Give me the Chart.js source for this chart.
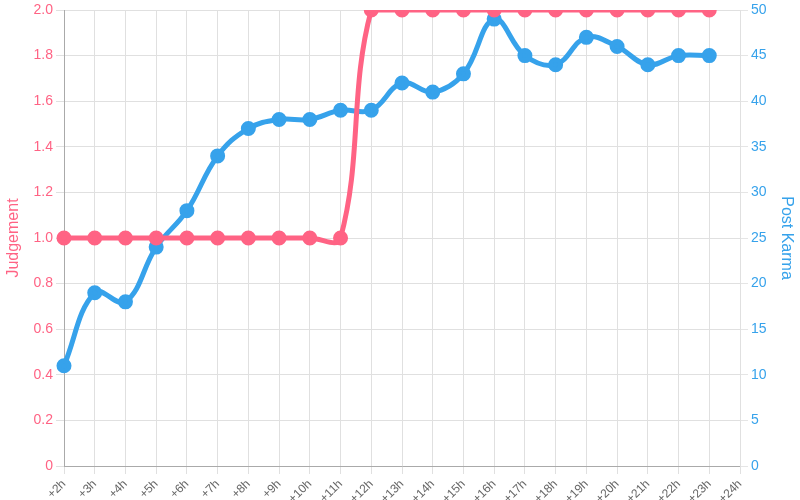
<!DOCTYPE html>
<html lang="en">
<head>
	<meta charset="UTF-8">
	<title>Judgement and Post Karma</title>
	<script src="https://cdn.jsdelivr.net/npm/chart.js"></script>
	<style>
		body { margin: 0; background: #fff; }
		#wrap { width: 800px; height: 500px; }
	</style>
</head>
<body>
	<div id="wrap">
		<canvas id="myChart"></canvas>
	</div>

	<script>
		const hours = ['+2h','+3h','+4h','+5h','+6h','+7h','+8h','+9h','+10h','+11h','+12h','+13h',
			'+14h','+15h','+16h','+17h','+18h','+19h','+20h','+21h','+22h','+23h','+24h'];
		const judgement = [1,1,1,1,1,1,1,1,1,1,2,2,2,2,2,2,2,2,2,2,2,2];
		const postKarma = [11,19,18,24,28,34,37,38,38,39,39,42,41,43,49,45,44,47,46,44,45,45];

		const red = 'rgb(255, 99, 132)';
		const blue = 'rgb(54, 162, 235)';

		Chart.defaults.font.family = '"Liberation Sans", Arial, sans-serif';

		new Chart(document.getElementById('myChart'), {
			type: 'line',
			data: {
				labels: hours,
				datasets: [{
					label: 'Judgement',
					data: judgement,
					yAxisID: 'y',
					borderColor: red,
					backgroundColor: red,
					borderWidth: 5,
					pointRadius: 5,
					tension: 0.4
				}, {
					label: 'Post Karma',
					data: postKarma,
					yAxisID: 'y1',
					borderColor: blue,
					backgroundColor: blue,
					borderWidth: 5,
					pointRadius: 5,
					tension: 0.4
				}]
			},
			options: {
				responsive: true,
				maintainAspectRatio: false,
				animation: false,
				plugins: { legend: { display: false } },
				scales: {
					x: {
						ticks: { color: '#666', maxRotation: 45, minRotation: 45, font: { size: 12 } },
						grid: { color: '#e0e0e0' },
						border: { color: '#aaa' },
						afterFit: s => { s.height = 34; }
					},
					y: {
						position: 'left',
						min: 0,
						max: 2,
						ticks: { stepSize: 0.2, color: red, font: { size: 14 },
							callback: v => v === 0 ? '0' : v.toFixed(1) },
						title: { display: true, text: 'Judgement', color: red, font: { size: 16, weight: '500' } },
						grid: { color: '#e0e0e0' },
						border: { color: '#aaa' },
						afterFit: s => { s.width = 64; s.paddingTop = 5; }
					},
					y1: {
						position: 'right',
						min: 0,
						max: 50,
						ticks: { stepSize: 5, color: blue, font: { size: 14 } },
						title: { display: true, text: 'Post Karma', color: blue, font: { size: 16, weight: '500' } },
						grid: { drawOnChartArea: false },
						border: { color: '#e0e0e0' },
						afterFit: s => { s.width = 60; s.paddingTop = 5; }
					}
				}
			}
		});
	</script>
</body>
</html>
